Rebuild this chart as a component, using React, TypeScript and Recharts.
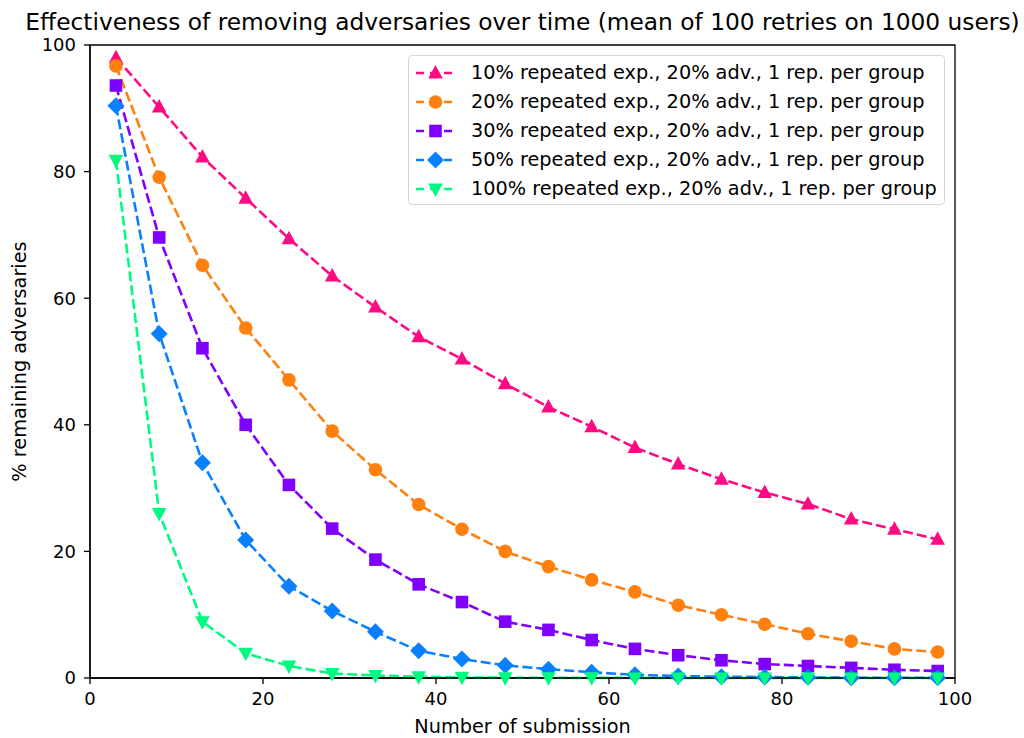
import React from 'react';
import { LineChart, Line, XAxis, YAxis, Label, ReferenceArea } from 'recharts';

const submissions = [3, 8, 13, 18, 23, 28, 33, 38, 43, 48, 53, 58, 63, 68, 73, 78, 83, 88, 93, 98];
const rep10 = [98.0, 90.2, 82.3, 75.8, 69.4, 63.5, 58.6, 53.9, 50.4, 46.5, 42.8, 39.7, 36.4, 33.8, 31.4, 29.3, 27.5, 25.1, 23.5, 21.9];
const rep20 = [96.7, 79.1, 65.2, 55.3, 47.1, 39.0, 32.9, 27.4, 23.5, 20.0, 17.6, 15.5, 13.6, 11.5, 10.0, 8.5, 7.0, 5.8, 4.6, 4.1];
const rep30 = [93.6, 69.6, 52.1, 40.0, 30.5, 23.6, 18.7, 14.8, 12.0, 8.9, 7.6, 6.0, 4.6, 3.6, 2.8, 2.2, 1.9, 1.6, 1.3, 1.1];
const rep50 = [90.4, 54.4, 34.0, 21.8, 14.5, 10.6, 7.3, 4.3, 3.0, 2.0, 1.4, 0.9, 0.5, 0.3, 0.2, 0.15, 0.1, 0.05, 0.05, 0.02];
const rep100 = [81.8, 26.0, 8.9, 3.9, 1.9, 0.7, 0.4, 0.2, 0.1, 0.05, 0.03, 0.02, 0.01, 0, 0, 0, 0, 0, 0, 0];

const xTicks = [0, 20, 40, 60, 80, 100];
const yTicks = [0, 20, 40, 60, 80, 100];

const seriesNames = [
  '10% repeated exp., 20% adv., 1 rep. per group',
  '20% repeated exp., 20% adv., 1 rep. per group',
  '30% repeated exp., 20% adv., 1 rep. per group',
  '50% repeated exp., 20% adv., 1 rep. per group',
  '100% repeated exp., 20% adv., 1 rep. per group',
];
const seriesKeys = ['rep10', 'rep20', 'rep30', 'rep50', 'rep100'];
const seriesColors = ['#ff0a82', '#ff800e', '#8000ff', '#0a80ff', '#00fa80'];
const seriesShapes = ['triUp', 'circle', 'square', 'diamond', 'triDown'];

const data = submissions.map((x, i) => ({
  x,
  rep10: rep10[i],
  rep20: rep20[i],
  rep30: rep30[i],
  rep50: rep50[i],
  rep100: rep100[i],
}));

const FONT = 'DejaVu Sans, sans-serif';

function Marker({ shape, cx, cy, color }: { shape: string; cx: number; cy: number; color: string }) {
  if (shape === 'circle') return <circle cx={cx} cy={cy} r={6.8} fill={color} />;
  if (shape === 'square') return <rect x={cx - 6.3} y={cy - 6.3} width={12.6} height={12.6} fill={color} />;
  if (shape === 'diamond')
    return <polygon points={`${cx},${cy - 8.5} ${cx + 8.5},${cy} ${cx},${cy + 8.5} ${cx - 8.5},${cy}`} fill={color} />;
  if (shape === 'triUp')
    return <polygon points={`${cx},${cy - 8} ${cx + 7.3},${cy + 5.5} ${cx - 7.3},${cy + 5.5}`} fill={color} />;
  return <polygon points={`${cx},${cy + 8} ${cx + 7.3},${cy - 5.5} ${cx - 7.3},${cy - 5.5}`} fill={color} />;
}

const makeDot = (shape: string, color: string) => (props: any) => {
  const { cx, cy, index } = props;
  if (cx == null || cy == null) return <g key={`d-${index}`} />;
  return (
    <g key={`d-${shape}-${index}`}>
      <Marker shape={shape} cx={cx} cy={cy} color={color} />
    </g>
  );
};

const LegendBox = () => (
  <div
    style={{
      position: 'absolute',
      left: 408,
      top: 55,
      width: 537,
      height: 150,
      boxSizing: 'border-box',
      border: '1.5px solid #d6d6d6',
      borderRadius: 4,
      background: 'rgba(255,255,255,0.8)',
      padding: '2px 0 0 6px',
      fontFamily: FONT,
      fontSize: 19.3,
      color: '#000',
    }}
  >
    {seriesNames.map((name, i) => (
      <div key={name} style={{ display: 'flex', alignItems: 'center', height: 29 }}>
        <svg width={41} height={20} style={{ marginRight: 15, flex: 'none' }}>
          <line x1={1} y1={10} x2={40} y2={10} stroke={seriesColors[i]} strokeWidth={2.6} strokeDasharray="8 6" />
          <Marker shape={seriesShapes[i]} cx={20.5} cy={10} color={seriesColors[i]} />
        </svg>
        <span style={{ whiteSpace: 'nowrap' }}>{name}</span>
      </div>
    ))}
  </div>
);

export default function App() {
  return (
    <div style={{ position: 'absolute', left: 0, top: 0, width: 1024, height: 738, background: '#fff' }}>
      <LineChart
        width={1024}
        height={738}
        data={data}
        margin={{ top: 45, right: 69, left: 0, bottom: 0 }}
        style={{ position: 'absolute', left: 0, top: 0 }}
      >
        <XAxis
          dataKey="x"
          type="number"
          domain={[0, 100]}
          ticks={xTicks}
          height={60}
          axisLine={{ stroke: '#000', strokeWidth: 1.3 }}
          tickLine={{ stroke: '#000', strokeWidth: 1.3 }}
          tickSize={6}
          tick={{ fill: '#000', fontSize: 18, fontFamily: FONT }}
          tickMargin={8}
        >
          <Label value="Number of submission" position="insideBottom" offset={5} fill="#000" fontSize={19.3} fontFamily={FONT} />
        </XAxis>
        <YAxis
          type="number"
          domain={[0, 100]}
          ticks={yTicks}
          width={90}
          axisLine={{ stroke: '#000', strokeWidth: 1.3 }}
          tickLine={{ stroke: '#000', strokeWidth: 1.3 }}
          tickSize={6}
          tick={{ fill: '#000', fontSize: 18, fontFamily: FONT }}
          tickMargin={8}
        >
          <Label
            value="% remaining adversaries"
            angle={-90}
            position="insideLeft"
            offset={19}
            style={{ textAnchor: 'middle' }}
            fill="#000"
            fontSize={19.3}
            fontFamily={FONT}
          />
        </YAxis>
        <ReferenceArea
          x1={0}
          x2={100}
          y1={0}
          y2={100}
          fill="none"
          fillOpacity={0}
          stroke="#000"
          strokeWidth={1.3}
          ifOverflow="visible"
        />
        {seriesKeys.map((k, i) => (
          <Line
            key={k}
            dataKey={k}
            name={seriesNames[i]}
            stroke={seriesColors[i]}
            strokeWidth={2.6}
            strokeDasharray="10 4"
            dot={makeDot(seriesShapes[i], seriesColors[i])}
            activeDot={false}
            isAnimationActive={false}
            type="linear"
          />
        ))}
      </LineChart>
      <div
        style={{
          position: 'absolute',
          left: 0,
          top: 8,
          width: 1045,
          textAlign: 'center',
          fontFamily: FONT,
          fontSize: 23.3,
          lineHeight: '28px',
          color: '#000',
          whiteSpace: 'nowrap',
        }}
      >
        Effectiveness of removing adversaries over time (mean of 100 retries on 1000 users)
      </div>
      <LegendBox />
    </div>
  );
}
